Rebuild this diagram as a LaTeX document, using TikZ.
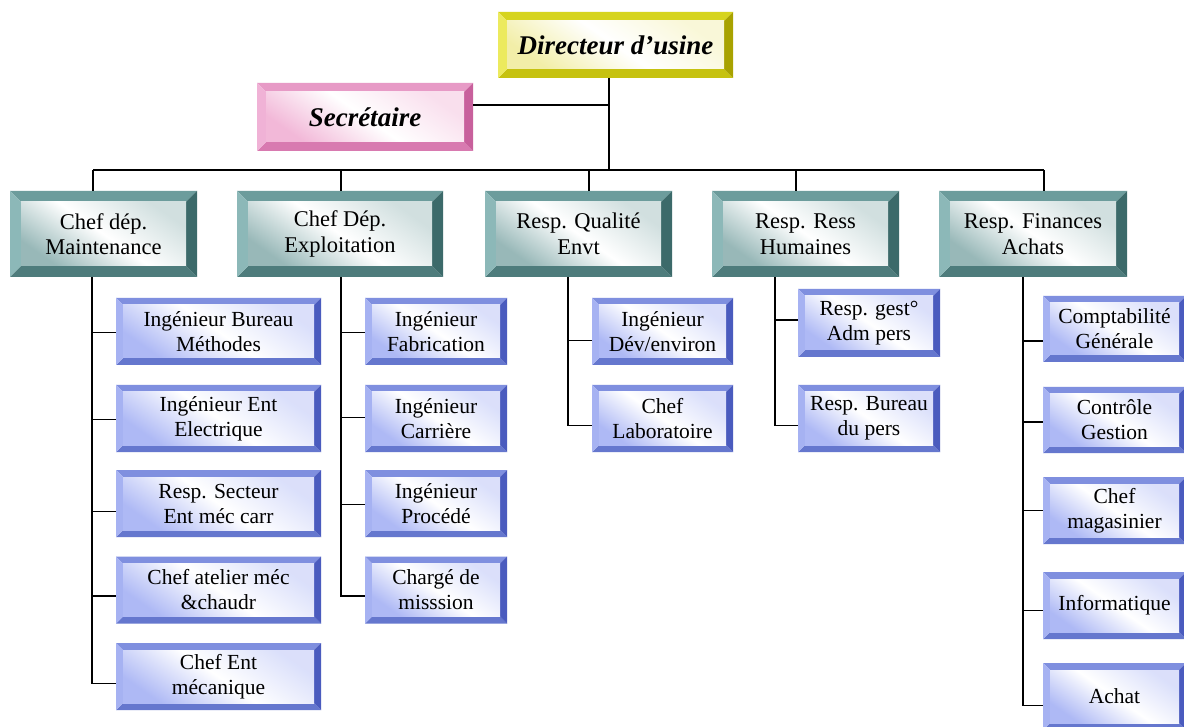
\documentclass[tikz,border=0pt]{standalone}
\usepackage{fontspec}
\setmainfont{Liberation Serif}
\definecolor{subT}{HTML}{7F8FDF}
\definecolor{subL}{HTML}{A6B2F2}
\definecolor{subR}{HTML}{4A5BBE}
\definecolor{subB}{HTML}{6577CE}
\definecolor{subI}{HTML}{AEB9F5}
\definecolor{chefT}{HTML}{6C9C9C}
\definecolor{chefL}{HTML}{8CB8B8}
\definecolor{chefR}{HTML}{3C6A6A}
\definecolor{chefB}{HTML}{4E7C7C}
\definecolor{chefI}{HTML}{98B8B8}
\definecolor{dirT}{HTML}{D6D41E}
\definecolor{dirL}{HTML}{ECEA5E}
\definecolor{dirR}{HTML}{A8A200}
\definecolor{dirB}{HTML}{C6C210}
\definecolor{dirI}{HTML}{F2EEA8}
\definecolor{secT}{HTML}{E79AC6}
\definecolor{secL}{HTML}{F0B2D6}
\definecolor{secR}{HTML}{C8609C}
\definecolor{secB}{HTML}{D87AB0}
\definecolor{secI}{HTML}{F2B8D8}
\tikzset{
  bevw/.store in=\bevw, bevw=7,
  pal/.store in=\pal, pal=sub,
  wh/.style 2 args={minimum width=#1, minimum height=#2},
  bbox/.style={inner sep=0pt, outer sep=0pt, align=center,
    path picture={
      \fill[fill=\pal T] (path picture bounding box.north west) -- (path picture bounding box.north east)
        -- ([shift={(-\bevw pt,-\bevw pt)}]path picture bounding box.north east)
        -- ([shift={(\bevw pt,-\bevw pt)}]path picture bounding box.north west) -- cycle;
      \fill[fill=\pal B] (path picture bounding box.south west) -- (path picture bounding box.south east)
        -- ([shift={(-\bevw pt,\bevw pt)}]path picture bounding box.south east)
        -- ([shift={(\bevw pt,\bevw pt)}]path picture bounding box.south west) -- cycle;
      \fill[fill=\pal L] (path picture bounding box.north west) -- (path picture bounding box.south west)
        -- ([shift={(\bevw pt,\bevw pt)}]path picture bounding box.south west)
        -- ([shift={(\bevw pt,-\bevw pt)}]path picture bounding box.north west) -- cycle;
      \fill[fill=\pal R] (path picture bounding box.north east) -- (path picture bounding box.south east)
        -- ([shift={(-\bevw pt,\bevw pt)}]path picture bounding box.south east)
        -- ([shift={(-\bevw pt,-\bevw pt)}]path picture bounding box.north east) -- cycle;
      \path[bottom color=\pal I, top color=\pal I!45, middle color=white, shading angle=-35]
        ([shift={(\bevw pt,-\bevw pt)}]path picture bounding box.north west)
        rectangle ([shift={(-\bevw pt,\bevw pt)}]path picture bounding box.south east);
    }},
  subbox/.style={bbox, bevw=7, pal=sub, font=\fontsize{21.5}{25}\selectfont},
  chefbox/.style={bbox, bevw=11, pal=chef, font=\fontsize{22.5}{25.5}\selectfont},
  dirbox/.style={bbox, bevw=9, pal=dir, font=\fontsize{27}{30}\selectfont\bfseries\itshape},
  secbox/.style={bbox, bevw=9, pal=sec, font=\fontsize{27}{30}\selectfont\bfseries\itshape},
  conn/.style={draw=black, line width=1.4pt}
}
\begin{document}
\begin{tikzpicture}[x=1pt, y=-1pt]
\useasboundingbox[fill=white] (0,0) rectangle (1184,727);
\begin{scope}
\clip (0,0) rectangle (1184,727);
% top
\node[dirbox, wh={235}{66}] (dir) at (615.5,45) {Directeur d’usine};
\node[secbox, wh={216}{68}] (sec) at (365,117) {Secrétaire};
% chefs
\node[chefbox, wh={187}{86}] (c1) at (103.5,234) {Chef dép.\\Maintenance};
\node[chefbox, wh={206}{86}] (c2) at (340,234) {Chef Dép.\\Exploitation};
\node[chefbox, wh={187}{86}] (c3) at (578.5,234) {Resp. Qualité\\Envt};
\node[chefbox, wh={187}{86}] (c4) at (805.5,234) {Resp. Ress\\Humaines};
\node[chefbox, wh={188}{86}] (c5) at (1033,234) {Resp. Finances\\Achats};
% maintenance
\node[subbox, wh={205}{67}] (m1) at (218.5,331.5) {Ingénieur Bureau\\Méthodes};
\node[subbox, wh={205}{67}] (m2) at (218.5,418.5) {Ingénieur Ent\\Electrique};
\node[subbox, wh={205}{67}] (m3) at (218.5,503.5) {Resp. Secteur\\Ent méc carr};
\node[subbox, wh={205}{67}] (m4) at (218.5,590) {Chef atelier méc\\\&chaudr};
\node[subbox, wh={205}{67}] (m5) at (218.5,676.5) {Chef Ent\\mécanique};
% exploitation
\node[subbox, wh={142}{67}] (e1) at (436,331.5) {Ingénieur\\Fabrication};
\node[subbox, wh={142}{67}] (e2) at (436,418.5) {Ingénieur\\Carrière};
\node[subbox, wh={142}{67}] (e3) at (436,503.5) {Ingénieur\\Procédé};
\node[subbox, wh={142}{67}] (e4) at (436,590) {Chargé de\\misssion};
% qualite
\node[subbox, wh={141}{67}] (q1) at (662.5,331.5) {Ingénieur\\Dév/environ};
\node[subbox, wh={141}{67}] (q2) at (662.5,418.5) {Chef\\Laboratoire};
% RH
\node[subbox, wh={142}{68}] (r1) at (869,323) {Resp. gest°\\Adm pers};
\node[subbox, wh={142}{67}] (r2) at (869,418.5) {Resp. Bureau\\du pers};
% finances
\node[subbox, wh={143}{66}] (f1) at (1114.5,329) {Comptabilité\\Générale};
\node[subbox, wh={143}{66}] (f2) at (1114.5,420) {Contrôle\\Gestion};
\node[subbox, wh={143}{67}] (f3) at (1114.5,510.5) {Chef\\magasinier};
\node[subbox, wh={143}{67}] (f4) at (1114.5,605.5) {Informatique};
\node[subbox, wh={143}{67}] (f5) at (1114.5,696.5) {Achat};
\end{scope}
% bus coordinates
\coordinate (jd) at (609,170);
\coordinate (b1) at (93,170);
\coordinate (b2) at (341,170);
\coordinate (b3) at (589,170);
\coordinate (b4) at (796,170);
\coordinate (b5) at (1044,170);
\coordinate (t1) at (92,0);
\coordinate (t2) at (341,0);
\coordinate (t3) at (568,0);
\coordinate (t4) at (775,0);
\coordinate (t5) at (1023,0);
\coordinate (secj) at ([yshift=12pt]sec.east);
% top connectors
\draw[conn] (jd |- dir.south) -- (jd);
\draw[conn] (secj) -- (secj -| jd);
\draw[conn] (b1) -- (b5);
\draw[conn] (b1) -- (b1 |- c1.north);
\draw[conn] (b2) -- (b2 |- c2.north);
\draw[conn] (b3) -- (b3 |- c3.north);
\draw[conn] (b4) -- (b4 |- c4.north);
\draw[conn] (b5) -- (b5 |- c5.north);
% branch points
\coordinate (m1w) at ([yshift=-1pt]m1.west);
\coordinate (m2w) at ([yshift=-1pt]m2.west);
\coordinate (m3w) at ([yshift=-8pt]m3.west);
\coordinate (m4w) at ([yshift=-6pt]m4.west);
\coordinate (m5w) at ([yshift=-7pt]m5.west);
\coordinate (e1w) at ([yshift=-1pt]e1.west);
\coordinate (e2w) at ([yshift=1pt]e2.west);
\coordinate (e3w) at ([yshift=-1pt]e3.west);
\coordinate (e4w) at ([yshift=-6pt]e4.west);
\coordinate (q1w) at ([yshift=-9pt]q1.west);
\coordinate (q2w) at ([yshift=-7pt]q2.west);
\coordinate (r1w) at ([yshift=3pt]r1.west);
\coordinate (r2w) at ([yshift=-7pt]r2.west);
\coordinate (f1w) at ([yshift=-12pt]f1.west);
\coordinate (f2w) at ([yshift=-2pt]f2.west);
\coordinate (f3w) at (f3.west);
\coordinate (f4w) at ([yshift=-5pt]f4.west);
\coordinate (f5w) at ([yshift=-9pt]f5.west);
% maintenance tree
\draw[conn] (t1 |- c1.south) -- (t1 |- m5w) -- (m5w);
\foreach \n in {m1w,m2w,m3w,m4w} \draw[conn] (t1 |- \n) -- (\n);
% exploitation tree
\draw[conn] (t2 |- c2.south) -- (t2 |- e4w) -- (e4w);
\foreach \n in {e1w,e2w,e3w} \draw[conn] (t2 |- \n) -- (\n);
% qualite tree
\draw[conn] (t3 |- c3.south) -- (t3 |- q2w) -- (q2w);
\draw[conn] (t3 |- q1w) -- (q1w);
% RH tree
\draw[conn] (t4 |- c4.south) -- (t4 |- r2w) -- (r2w);
\draw[conn] (t4 |- r1w) -- (r1w);
% finances tree
\draw[conn] (t5 |- c5.south) -- (t5 |- f5w) -- (f5w);
\foreach \n in {f1w,f2w,f3w,f4w} \draw[conn] (t5 |- \n) -- (\n);
\end{tikzpicture}
\end{document}
